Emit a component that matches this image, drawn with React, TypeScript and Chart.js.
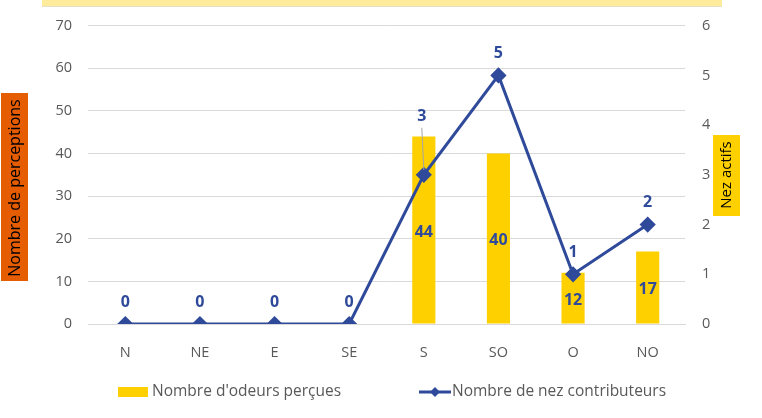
import React, { useEffect, useRef } from "react";
import { Chart, registerables } from "chart.js";

Chart.register(...registerables);

const categories = ["N", "NE", "E", "SE", "S", "SO", "O", "NO"];
const odeurs = [0, 0, 0, 0, 44, 40, 12, 17];
const nez = [0, 0, 0, 0, 3, 5, 1, 2];
const leftTicksMax = 70;
const rightTicksMax = 6;
const barLabel = "Nombre d'odeurs perçues";
const lineLabel = "Nombre de nez contributeurs";
const leftTitle = "Nombre de perceptions";
const rightTitle = "Nez actifs";

const BAR_COLOR = "#FFD000";
const LINE_COLOR = "#2F4A9A";
const TEXT_GREY = "#595959";
const FONT = "'Open Sans', 'Noto Sans', sans-serif";

const decorPlugin = {
  id: "decor",
  afterDatasetsDraw(chart: any) {
    const ctx = chart.ctx;
    const barMeta = chart.getDatasetMeta(0);
    const lineMeta = chart.getDatasetMeta(1);
    ctx.save();
    ctx.font = `bold 16px ${FONT}`;
    ctx.fillStyle = LINE_COLOR;
    ctx.textAlign = "center";
    ctx.textBaseline = "middle";
    // bar labels (centered)
    barMeta.data.forEach((el: any, i: number) => {
      const v = odeurs[i];
      if (!v) return;
      const yc = (el.y + el.base) / 2;
      ctx.fillText(String(v), el.x, yc + 2);
    });
    // line labels (above)
    lineMeta.data.forEach((el: any, i: number) => {
      const v = nez[i];
      let off = 22;
      if (i === 4) off = 58;
      const ly = el.y - off;
      if (i === 4) {
        ctx.save();
        ctx.strokeStyle = "#A6A6A6";
        ctx.lineWidth = 1;
        ctx.beginPath();
        ctx.moveTo(el.x - 2, ly + 11);
        ctx.lineTo(el.x, el.y - 5);
        ctx.stroke();
        ctx.restore();
      }
      ctx.fillText(String(v), el.x - (i === 4 ? 2 : 0), ly);
    });
    ctx.restore();
  },
  afterDraw(chart: any) {
    const ctx = chart.ctx;
    ctx.save();
    // left axis title box
    ctx.fillStyle = "#E65C00";
    ctx.fillRect(1, 93, 27, 188);
    ctx.fillStyle = "#000";
    ctx.font = `16px ${FONT}`;
    ctx.textAlign = "center";
    ctx.textBaseline = "middle";
    ctx.save();
    ctx.translate(15, 188);
    ctx.rotate(-Math.PI / 2);
    ctx.fillText(leftTitle, 0, 0);
    ctx.restore();
    // right axis title box
    ctx.fillStyle = "#FFD000";
    ctx.fillRect(713, 135, 27, 81);
    ctx.fillStyle = "#000";
    ctx.font = `15px ${FONT}`;
    ctx.save();
    ctx.translate(727, 175);
    ctx.rotate(-Math.PI / 2);
    ctx.fillText(rightTitle, 0, 0);
    ctx.restore();
    // legend
    const ly = 392;
    ctx.font = `15.5px ${FONT}`;
    ctx.fillStyle = BAR_COLOR;
    ctx.fillRect(118, ly - 5, 30, 10);
    ctx.fillStyle = TEXT_GREY;
    ctx.textAlign = "left";
    ctx.fillText(barLabel, 152, ly);
    ctx.strokeStyle = LINE_COLOR;
    ctx.lineWidth = 3;
    ctx.beginPath();
    ctx.moveTo(419, ly);
    ctx.lineTo(451, ly);
    ctx.stroke();
    ctx.fillStyle = LINE_COLOR;
    ctx.beginPath();
    ctx.moveTo(435, ly - 5);
    ctx.lineTo(440, ly);
    ctx.lineTo(435, ly + 5);
    ctx.lineTo(430, ly);
    ctx.closePath();
    ctx.fill();
    ctx.fillStyle = TEXT_GREY;
    ctx.fillText(lineLabel, 452, ly);
    ctx.restore();
  },
};

export default function App() {
  const ref = useRef<HTMLCanvasElement>(null);
  useEffect(() => {
    document.body.style.margin = "0";
    const chart = new Chart(ref.current as HTMLCanvasElement, {
      type: "bar",
      data: {
        labels: categories,
        datasets: [
          {
            type: "bar",
            label: barLabel,
            data: odeurs,
            backgroundColor: BAR_COLOR,
            yAxisID: "y",
            barPercentage: 0.62,
            categoryPercentage: 0.5,
            order: 2,
          },
          {
            type: "line",
            label: lineLabel,
            data: nez,
            borderColor: LINE_COLOR,
            backgroundColor: LINE_COLOR,
            borderWidth: 3,
            pointStyle: "rectRot",
            pointRadius: 6,
            pointHoverRadius: 6,
            yAxisID: "y1",
            tension: 0,
            order: 1,
          } as any,
        ],
      },
      options: {
        animation: false,
        responsive: false,
        layout: { padding: { top: 25, left: 30, right: 0, bottom: 0 } },
        plugins: { legend: { display: false }, tooltip: { enabled: false } },
        scales: {
          x: {
            grid: { display: false, drawTicks: false },
            border: { color: "#D9D9D9" },
            ticks: { color: TEXT_GREY, font: { family: FONT, size: 14.5 }, padding: 20 },
            afterFit(s: any) {
              s.height = 94;
            },
          },
          y: {
            position: "left",
            min: 0,
            max: leftTicksMax,
            ticks: { stepSize: 10, color: TEXT_GREY, font: { family: FONT, size: 14.5 }, padding: 16 },
            grid: { color: "#D9D9D9", drawTicks: false },
            border: { display: false },
            afterFit(s: any) {
              s.width = 58;
            },
          },
          y1: {
            position: "right",
            min: 0,
            max: rightTicksMax,
            ticks: { stepSize: 1, color: TEXT_GREY, font: { family: FONT, size: 14.5 }, padding: 17 },
            grid: { display: false, drawTicks: false },
            border: { display: false },
            afterFit(s: any) {
              s.width = 77;
            },
          },
        },
      },
      plugins: [decorPlugin],
    });
    return () => chart.destroy();
  }, []);
  return (
    <div style={{ position: "relative", width: 762, height: 418, background: "#fff" }}>
      <div
        style={{
          position: "absolute",
          left: 42,
          top: 0,
          width: 680,
          height: 6,
          background: "#FFEB9C",
          borderBottom: "1px solid #E6E0C8",
        }}
      />
      <canvas ref={ref} width={762} height={418} style={{ display: "block" }} />
    </div>
  );
}
